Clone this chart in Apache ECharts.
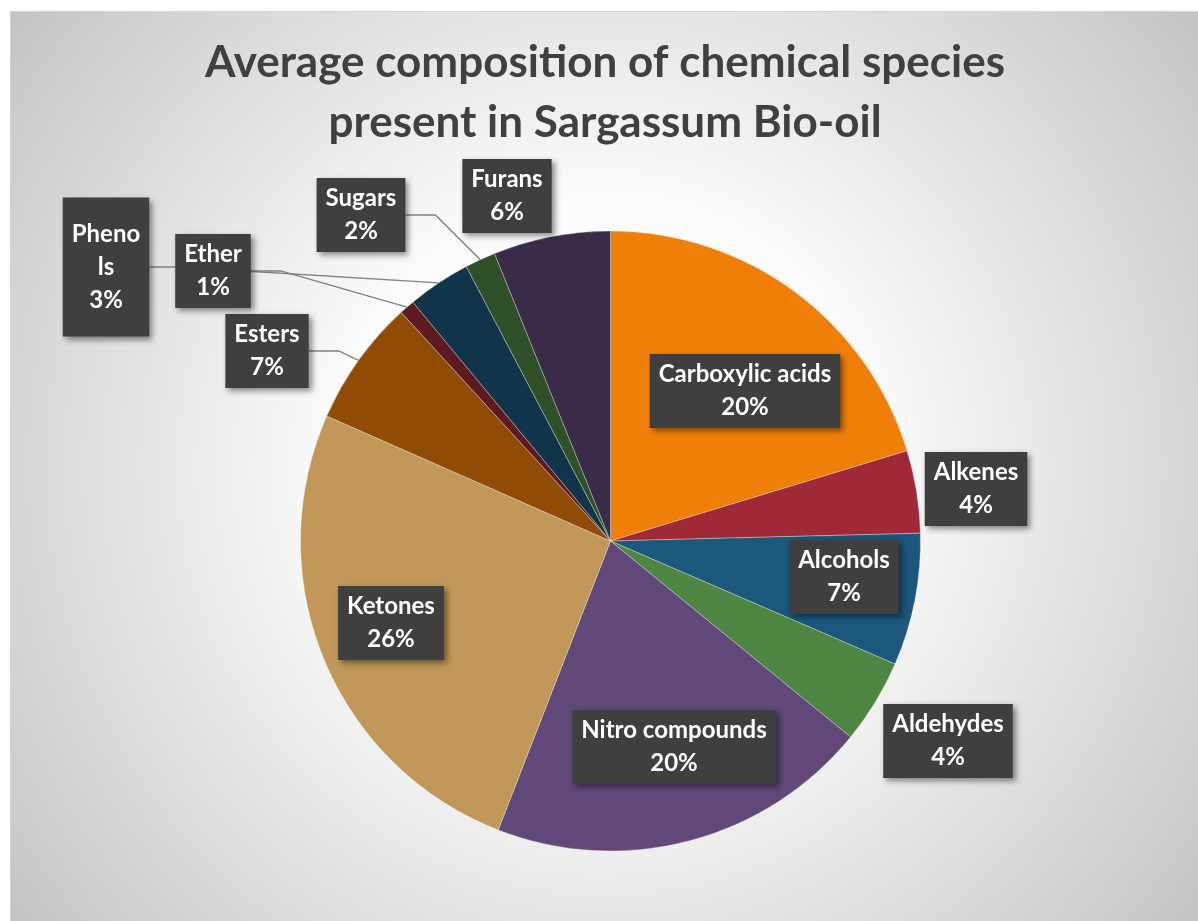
<!DOCTYPE html>
<html>
<head>
<meta charset="utf-8">
<script src="https://cdn.jsdelivr.net/npm/echarts@6/dist/echarts.min.js"></script>
<style>
  body { margin: 0; background: #fff; }
  #chart { position: absolute; left: 10px; top: 11px; width: 1188px; height: 910px; border-top: 1px solid #d4d4d4; border-left: 1px solid #d4d4d4; }
</style>
</head>
<body>
<div id="chart"></div>
<script>
// slices in drawing order, clockwise from 12 o'clock
var categories = ['Carboxylic acids', 'Alkenes', 'Alcohols', 'Aldehydes', 'Nitro compounds',
  'Ketones', 'Esters', 'Ether', 'Phenols', 'Sugars', 'Furans'];
var shares = [20.3, 4.3, 6.9, 4.4, 20.0, 25.7, 6.6, 0.8, 3.3, 1.6, 6.1];
var colors = ['#F07F09', '#9F2936', '#1B587C', '#4E8542', '#604878', '#C19859',
  '#904C05', '#5F1920', '#10354A', '#2F5028', '#3A2B48'];

// where each data label box sits (px inside the chart div) and whether it gets a leader line
var labelSpots = [[734, 379], [965, 477], [833, 565], [937, 729], [663, 735], [380, 611],
  [256, 339], [202, 259], [95, 255], [350, 203], [496, 184]];
var withLine = ['Esters', 'Ether', 'Phenols', 'Sugars'];

var pieData = categories.map(function (name, i) {
  var item = {
    name: name,
    value: shares[i],
    itemStyle: { color: colors[i] },
    labelLine: { show: withLine.indexOf(name) >= 0 }
  };
  if (name === 'Phenols') {
    item.label = { padding: [20, 9] };
  }
  return item;
});

var myChart = echarts.init(document.getElementById('chart'));
var option = {
  backgroundColor: {
    type: 'radial', x: 0.5, y: 0.5, r: 0.85,
    colorStops: [
      { offset: 0, color: '#ffffff' },
      { offset: 0.35, color: '#fbfbfb' },
      { offset: 1, color: '#c2c2c2' }
    ]
  },
  title: {
    text: 'Average composition of chemical species\npresent in Sargassum Bio-oil',
    left: 'center',
    top: 16,
    textStyle: {
      fontFamily: 'Lato',
      fontWeight: 'bold',
      fontSize: 44,
      lineHeight: 60,
      color: '#404040'
    }
  },
  series: [
    {
      name: 'Composition',
      type: 'pie',
      center: [599.5, 529],
      radius: 310,
      startAngle: 90,
      clockwise: true,
      avoidLabelOverlap: false,
      itemStyle: { borderColor: 'rgba(255,255,255,0.5)', borderWidth: 0.6 },
      label: {
        show: true,
        position: 'outside',
        formatter: function (p) {
          var txt = p.name === 'Phenols' ? 'Pheno\nls' : p.name;
          return txt + '\n' + Math.round(p.percent) + '%';
        },
        fontFamily: 'Lato',
        fontWeight: 'bold',
        fontSize: 24,
        lineHeight: 33,
        color: '#ffffff',
        align: 'center',
        backgroundColor: '#3f3f3f',
        padding: [4, 9],
        shadowBlur: 6,
        shadowOffsetX: 3,
        shadowOffsetY: 3,
        shadowColor: 'rgba(0,0,0,0.45)'
      },
      labelLine: {
        show: true,
        lineStyle: { color: '#808080', width: 1.3 }
      },
      labelLayout: function (params) {
        var spot = labelSpots[params.dataIndex];
        return { x: spot[0], y: spot[1], align: 'center', verticalAlign: 'middle' };
      },
      emphasis: { disabled: true },
      data: pieData
    }
  ]
};
myChart.setOption(option, true);
</script>
</body>
</html>
